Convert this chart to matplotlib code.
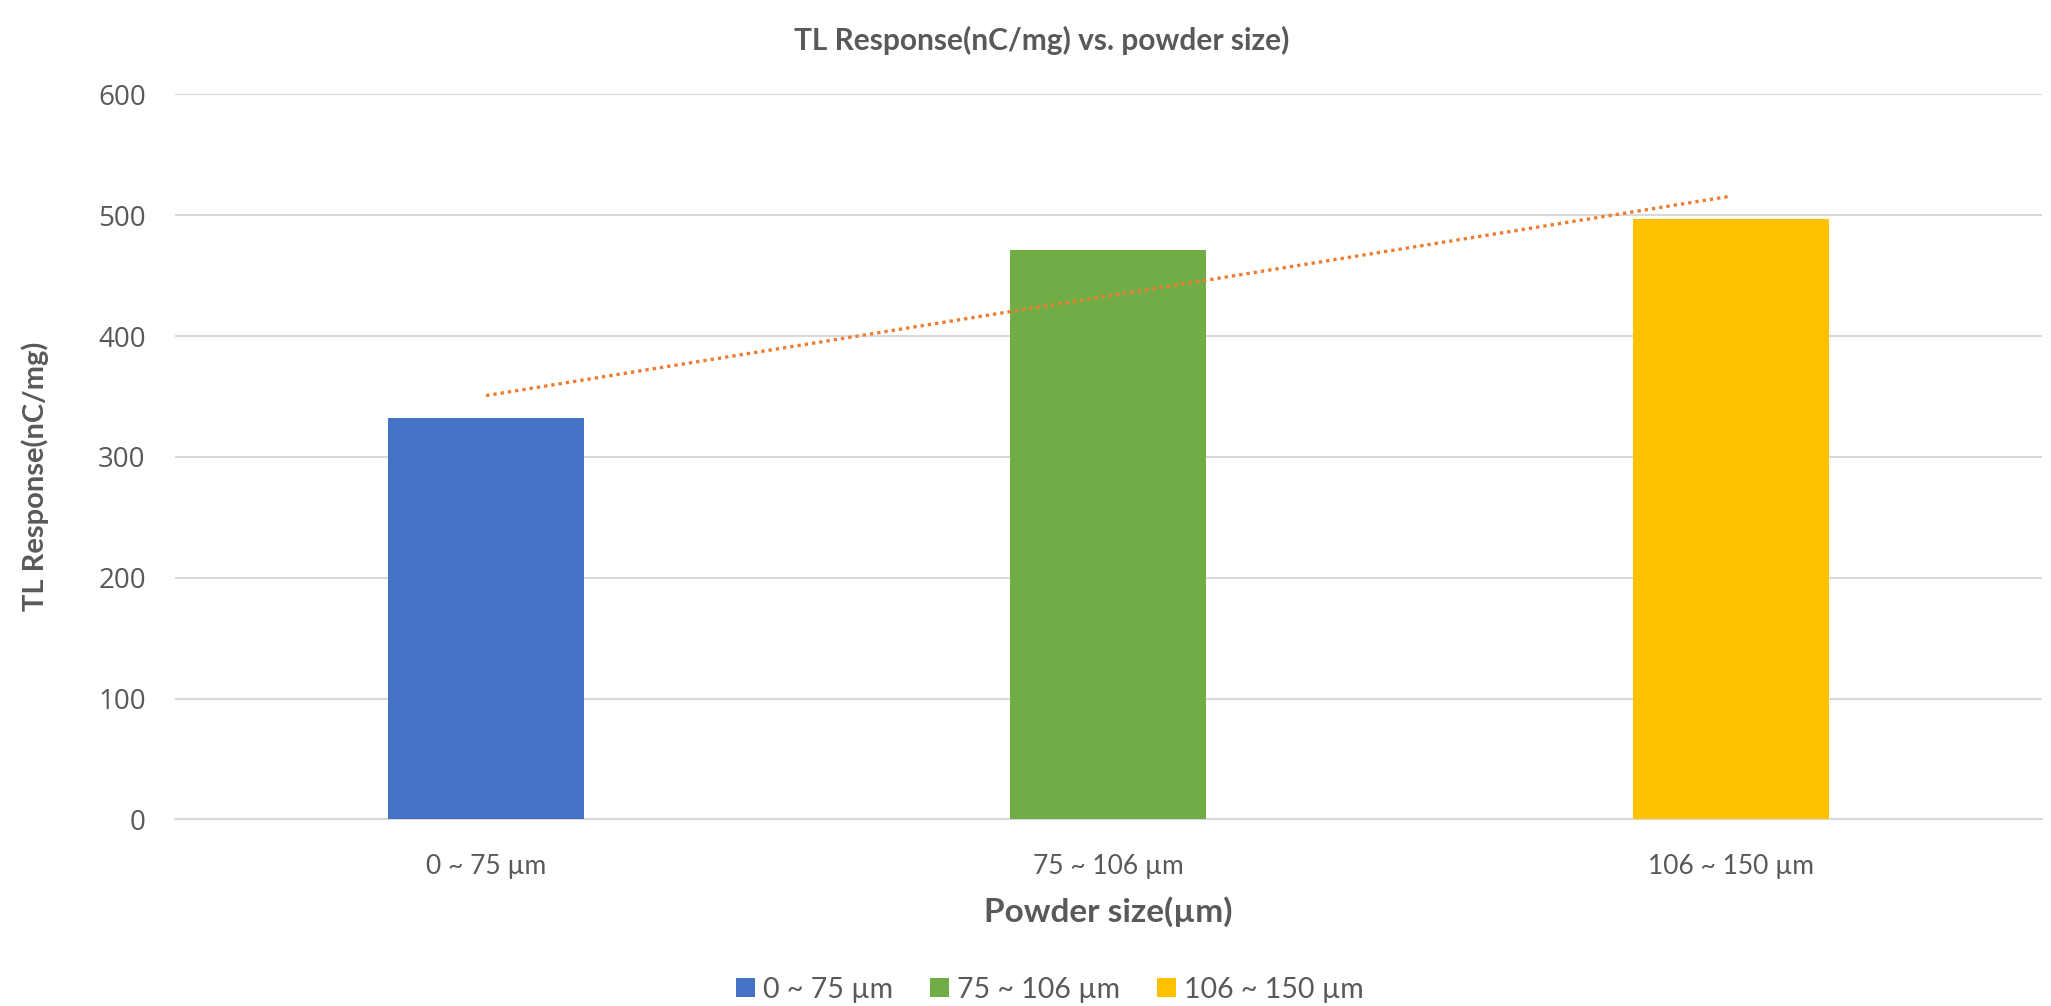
import numpy as np
import matplotlib
matplotlib.use('Agg')
import matplotlib.pyplot as plt

# data
categories = ['0 ~ 75 µm', '75 ~ 106 µm', '106 ~ 150 µm']
tl_response = [332, 471, 497]
bar_colors = ['#4472C4', '#70AD47', '#FFC000']

text_color = '#595959'
plt.rcParams['font.family'] = ['Lato', 'DejaVu Sans']

fig = plt.figure(figsize=(20.51, 10.06), dpi=100)
ax = fig.add_axes([0.0853, 0.1854, 0.9103, 0.7207])

x = np.arange(len(categories))
bars = ax.bar(x, tl_response, width=0.315, color=bar_colors, zorder=3)

# linear trendline across the bars (like Excel's)
slope, intercept = np.polyfit(x + 1, tl_response, 1)
ax.plot(x, slope * (x + 1) + intercept, linestyle=(0, (1, 1.2)), color='#ED7D31',
        linewidth=2.4, zorder=4)

ax.set_xlim(-0.5, len(categories) - 0.5)
ax.set_ylim(0, 600)
ax.set_yticks(range(0, 601, 100))
ax.grid(axis='y', color='#D9D9D9', linewidth=1.5, zorder=0)
for s in ['top', 'right', 'left']:
    ax.spines[s].set_visible(False)
ax.spines['bottom'].set_color('#D9D9D9')
ax.spines['bottom'].set_linewidth(1.5)
ax.tick_params(axis='both', length=0, colors=text_color)
ax.tick_params(axis='y', pad=21)
ax.tick_params(axis='x', pad=25)
ax.set_xticks(x)
ax.set_xticklabels(categories, fontsize=19, color=text_color)
for lbl in ax.get_yticklabels():
    lbl.set_fontfamily('Open Sans')
    lbl.set_fontsize(20)
    lbl.set_color(text_color)

ax.set_xlabel('Powder size(µm)', fontsize=24, fontweight='bold', color=text_color, labelpad=12)
ax.set_ylabel('TL Response(nC/mg)', fontsize=21, fontweight='bold', color=text_color, labelpad=35)
ax.yaxis.label.set_y(0.473)
fig.text(0.508, 0.96, 'TL Response(nC/mg) vs. powder size)', ha='center', va='center',
         fontsize=21.5, fontweight='bold', color=text_color)

leg = fig.legend(bars, categories, loc='center', bbox_to_anchor=(0.512, 0.016), ncol=3,
                 frameon=False, fontsize=20.5, handlelength=0.65, handleheight=0.65,
                 handletextpad=0.3, columnspacing=1.3)
for t in leg.get_texts():
    t.set_color(text_color)

plt.savefig('out.png', dpi=100)
